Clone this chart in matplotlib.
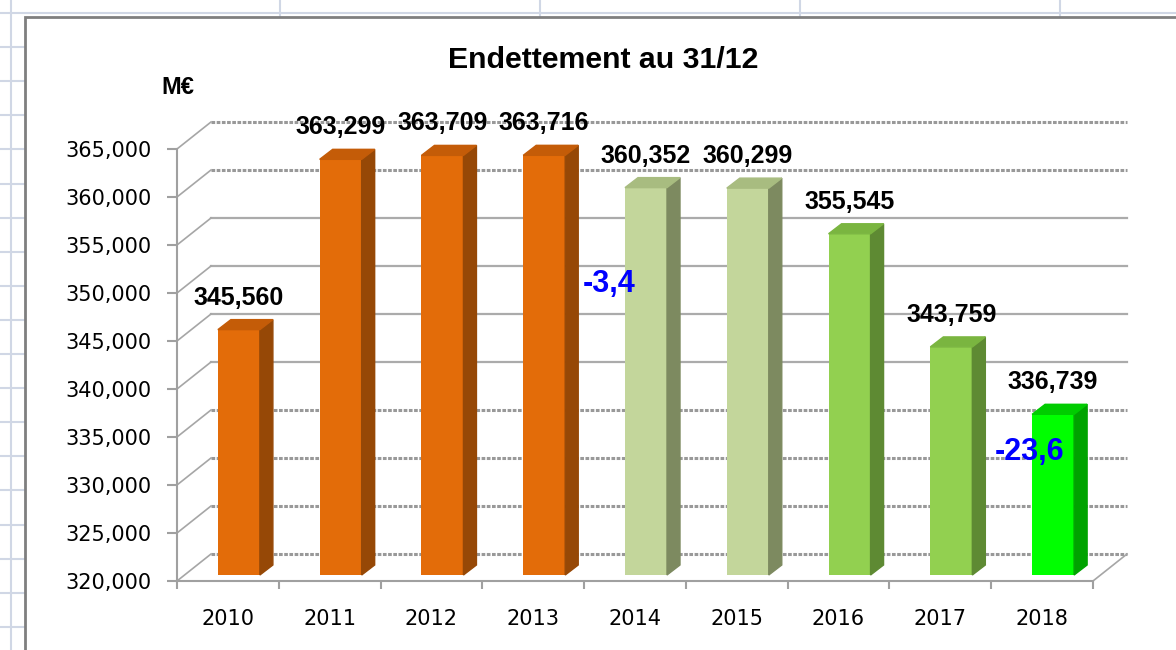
import matplotlib
matplotlib.use("Agg")
import matplotlib.pyplot as plt
import numpy as np
from matplotlib.patches import Rectangle

# data
years = ["2010", "2011", "2012", "2013", "2014", "2015", "2016", "2017", "2018"]
debt = [345560, 363299, 363709, 363716, 360352, 360299, 355545, 343759, 336739]

front_colors = ["#E36C09"] * 4 + ["#C3D69B"] * 2 + ["#92D050"] * 2 + ["#00FF00"]
side_colors = ["#964806"] * 4 + ["#7D8A60"] * 2 + ["#5E8A33"] * 2 + ["#00A300"]
top_colors = ["#C45C08"] * 4 + ["#A8BC80"] * 2 + ["#7AB540"] * 2 + ["#00CC00"]

change_labels = ["-3,4", "-23,6"]
change_x = [3.49, 7.53]
change_y = [350900, 333400]

y_ticks = list(range(320000, 365001, 5000))
dotted_grid = [320000, 325000, 330000, 335000, 360000, 365000]

W, H = 1176, 650
AX_LEFT, AX_RIGHT, AX_TOP, AX_BOTTOM = 177, 1093, 149, 581
Y_MIN, Y_MAX = 320000, 365000
X_MIN, X_MAX = -0.5, 8.5


def px_x(n):
    return n * (X_MAX - X_MIN) / (AX_RIGHT - AX_LEFT)


def px_y(n):
    return n * (Y_MAX - Y_MIN) / (AX_BOTTOM - AX_TOP)


def main():
    fig = plt.figure(figsize=(W / 100, H / 100), dpi=100)

    # spreadsheet behind the chart object
    bg = fig.add_axes([0, 0, 1, 1])
    bg.set_xlim(0, W)
    bg.set_ylim(H, 0)
    bg.axis("off")
    for y in np.arange(13, H, 34.1):
        bg.axhline(y, color="#D0D7E5", lw=1.5)
    for x in [11, 280, 540, 800, 1060]:
        bg.axvline(x, color="#D0D7E5", lw=1.5)
    bg.add_patch(Rectangle((25, 17), W, H, facecolor="white",
                           edgecolor="#7F7F7F", lw=2, zorder=5))

    ax = fig.add_axes([AX_LEFT / W, 1 - AX_BOTTOM / H,
                       (AX_RIGHT - AX_LEFT) / W, (AX_BOTTOM - AX_TOP) / H])
    ax.patch.set_visible(False)
    ax.set_xlim(X_MIN, X_MAX)
    ax.set_ylim(Y_MIN, Y_MAX)

    # back wall + left wall connectors
    wdx, wdy = px_x(34), px_y(27)
    for t in y_ticks:
        if t in dotted_grid:
            ax.plot([X_MIN + wdx, X_MAX + wdx], [t + wdy] * 2, color="#999999",
                    lw=2.2, ls=(0, (1.2, 0.5)), clip_on=False, zorder=1)
        else:
            ax.plot([X_MIN + wdx, X_MAX + wdx], [t + wdy] * 2, color="#ABABAB",
                    lw=1.6, clip_on=False, zorder=1)
        ax.plot([X_MIN, X_MIN + wdx], [t, t + wdy], color="#A6A6A6", lw=1.2,
                clip_on=False, zorder=1)
    ax.plot([X_MAX, X_MAX + wdx], [Y_MIN, Y_MIN + wdy], color="#A6A6A6",
            lw=1.2, clip_on=False, zorder=1)

    # 3d-ish bars
    xs = np.arange(len(years)) + px_x(11)
    bw = px_x(42)
    lift = px_y(6)
    base = Y_MIN + lift
    bdx, bdy = px_x(13), px_y(10)
    vals = np.array(debt)
    bars = ax.bar(xs, vals - Y_MIN, width=bw, bottom=base, color=front_colors,
                  zorder=3)
    for b in bars:
        b.set_clip_on(False)
    for xc, v, sc, tc in zip(xs, vals, side_colors, top_colors):
        x0, x1 = xc - bw / 2, xc + bw / 2
        top = v + lift
        ax.fill([x1, x1 + bdx, x1 + bdx, x1], [base, base + bdy, top + bdy, top],
                color=sc, zorder=3, clip_on=False)
        ax.fill([x0, x1, x1 + bdx, x0 + bdx], [top, top, top + bdy, top + bdy],
                color=tc, zorder=3, clip_on=False)
        ax.text(xc, top + bdy + px_y(15), f"{v:,}", ha="center", va="baseline",
                fontsize=18, fontweight="bold", family="Liberation Sans",
                zorder=6, clip_on=False)

    for lbl, cx, cy in zip(change_labels, change_x, change_y):
        ax.text(cx, cy, lbl, ha="left", va="center", color="#0000FF",
                fontsize=22, fontweight="bold", family="Liberation Sans", zorder=6)

    # axes
    for side in ["top", "right"]:
        ax.spines[side].set_visible(False)
    for side in ["left", "bottom"]:
        ax.spines[side].set_color("#A0A0A0")
        ax.spines[side].set_linewidth(1.5)

    ax.set_yticks(y_ticks, labels=[f"{t:,}" for t in y_ticks])
    ax.tick_params(axis="y", length=7, width=1.5, color="#A0A0A0", pad=11.5,
                   labelsize=15)
    ax.set_xticks(np.arange(X_MIN, X_MAX + 0.01, 1.0), labels=[""] * 10)
    ax.set_xticks(np.arange(len(years)), labels=years, minor=True)
    ax.tick_params(axis="x", which="major", length=6, width=1.5, color="#A0A0A0")
    ax.tick_params(axis="x", which="minor", length=0, pad=20, labelsize=15)

    fig.text(603 / W, 1 - 60 / H, "Endettement au 31/12", ha="center",
             va="center", fontsize=21.8, fontweight="bold", family="Liberation Sans")
    fig.text(178 / W, 1 - 87 / H, "M€", ha="center", va="center", fontsize=17,
             fontweight="bold", family="Liberation Sans")

    fig.savefig("out.png", dpi=100)
    plt.close(fig)


if __name__ == "__main__":
    main()
